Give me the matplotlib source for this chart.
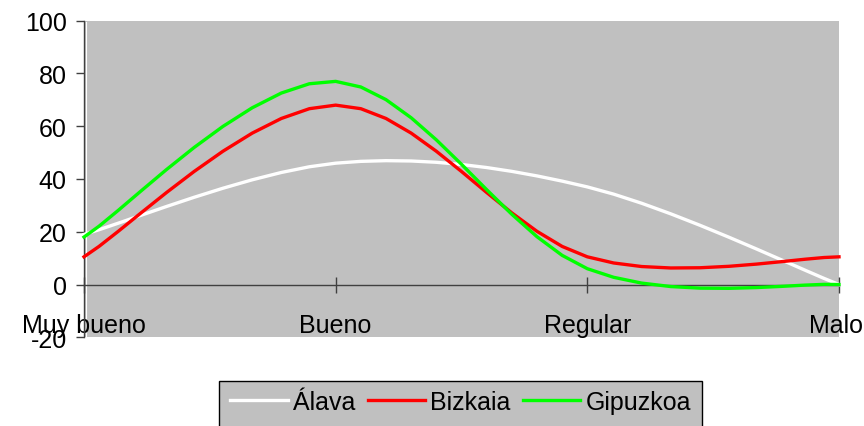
import numpy as np
import matplotlib
matplotlib.use("Agg")
import matplotlib.pyplot as plt
import matplotlib.transforms as mtransforms
from matplotlib.patches import Rectangle

categories = ["Muy bueno", "Bueno", "Regular", "Malo"]
alava = [19, 46, 37, 0]
bizkaia = [10.5, 68, 10.5, 10.5]
gipuzkoa = [18, 77, 6, 0]

series = [("Álava", alava, "#FFFFFF"),
          ("Bizkaia", bizkaia, "#FF0000"),
          ("Gipuzkoa", gipuzkoa, "#00FF00")]


def smooth(xs, ys, steps=10):
    """Bezier smoothing through the points (Catmull-Rom style tangents)."""
    p = np.column_stack([xs, ys]).astype(float)
    n = len(p)
    out = [p[0]]
    t = np.linspace(0, 1, steps + 1)[1:]
    for i in range(n - 1):
        p0 = p[i - 1] if i > 0 else p[i]
        p3 = p[i + 2] if i + 2 < n else p[i + 1]
        c1 = p[i] + (p[i + 1] - p0) / 6.0
        c2 = p[i + 1] - (p3 - p[i]) / 6.0
        for tt in t:
            b = ((1 - tt) ** 3) * p[i] + 3 * ((1 - tt) ** 2) * tt * c1 \
                + 3 * (1 - tt) * tt ** 2 * c2 + tt ** 3 * p[i + 1]
            out.append(b)
    out = np.array(out)
    return out[:, 0], out[:, 1]


plt.rcParams["font.family"] = ["Liberation Sans", "DejaVu Sans"]
plt.rcParams["axes.unicode_minus"] = False

FS = 18
W, H = 864, 427
fig = plt.figure(figsize=(W / 100, H / 100), dpi=100)
left, right, top, bottom = 84, 839, 21.7, 338.3
ax = fig.add_axes([left / W, 1 - bottom / H, (right - left) / W, (bottom - top) / H])
ax.set_facecolor("#C0C0C0")

# thin light edge along the left of the plot area
edge = ax.transAxes + mtransforms.ScaledTranslation(2 / 100, 0, fig.dpi_scale_trans)
ax.plot([0, 0], [0.005, 0.995], color="white", lw=0.8, transform=edge, zorder=1)

x = np.arange(len(categories))
for name, vals, color in series:
    sx, sy = smooth(x, vals)
    ax.plot(sx, sy, color=color, lw=2.4, label=name, solid_joinstyle="round",
            clip_on=False, zorder=3)

ax.set_xlim(0, len(categories) - 1)
ax.set_ylim(-20, 100)
ax.set_yticks(range(-20, 101, 20))
ax.set_xticks(x)
ax.set_xticklabels(categories)

axis_color = "#404040"
for s in ("top", "right"):
    ax.spines[s].set_visible(False)
ax.spines["left"].set_color(axis_color)
ax.spines["bottom"].set_color(axis_color)
ax.spines["bottom"].set_position(("data", 0))
ax.spines["left"].set_linewidth(1.0)
ax.spines["bottom"].set_linewidth(1.0)

ax.tick_params(axis="y", direction="out", length=6, width=1, color=axis_color,
               labelsize=FS, pad=6.5)
ax.tick_params(axis="x", direction="inout", length=12, width=1, color=axis_color,
               labelsize=FS, pad=14.5)

# nudge the last category label slightly left so it stays on the canvas
last = ax.get_xticklabels()[-1]
last.set_transform(last.get_transform()
                   + mtransforms.ScaledTranslation(-3 / 100, 0, fig.dpi_scale_trans))

# legend box: runs off the bottom edge of the canvas
fig.patches.append(Rectangle((219 / W, -0.05), (702 - 219) / W, 0.05 + (427 - 382) / H,
                             transform=fig.transFigure, facecolor="#C0C0C0",
                             edgecolor="black", lw=1.0, zorder=0))
fig.legend(loc="upper center", bbox_to_anchor=(460.5 / W, 1 - 382 / H), ncol=3,
           fontsize=FS, frameon=False, handlelength=2.3, handletextpad=0.2,
           columnspacing=0.5, borderpad=0.36, borderaxespad=0)

fig.savefig("out.png", dpi=100)
